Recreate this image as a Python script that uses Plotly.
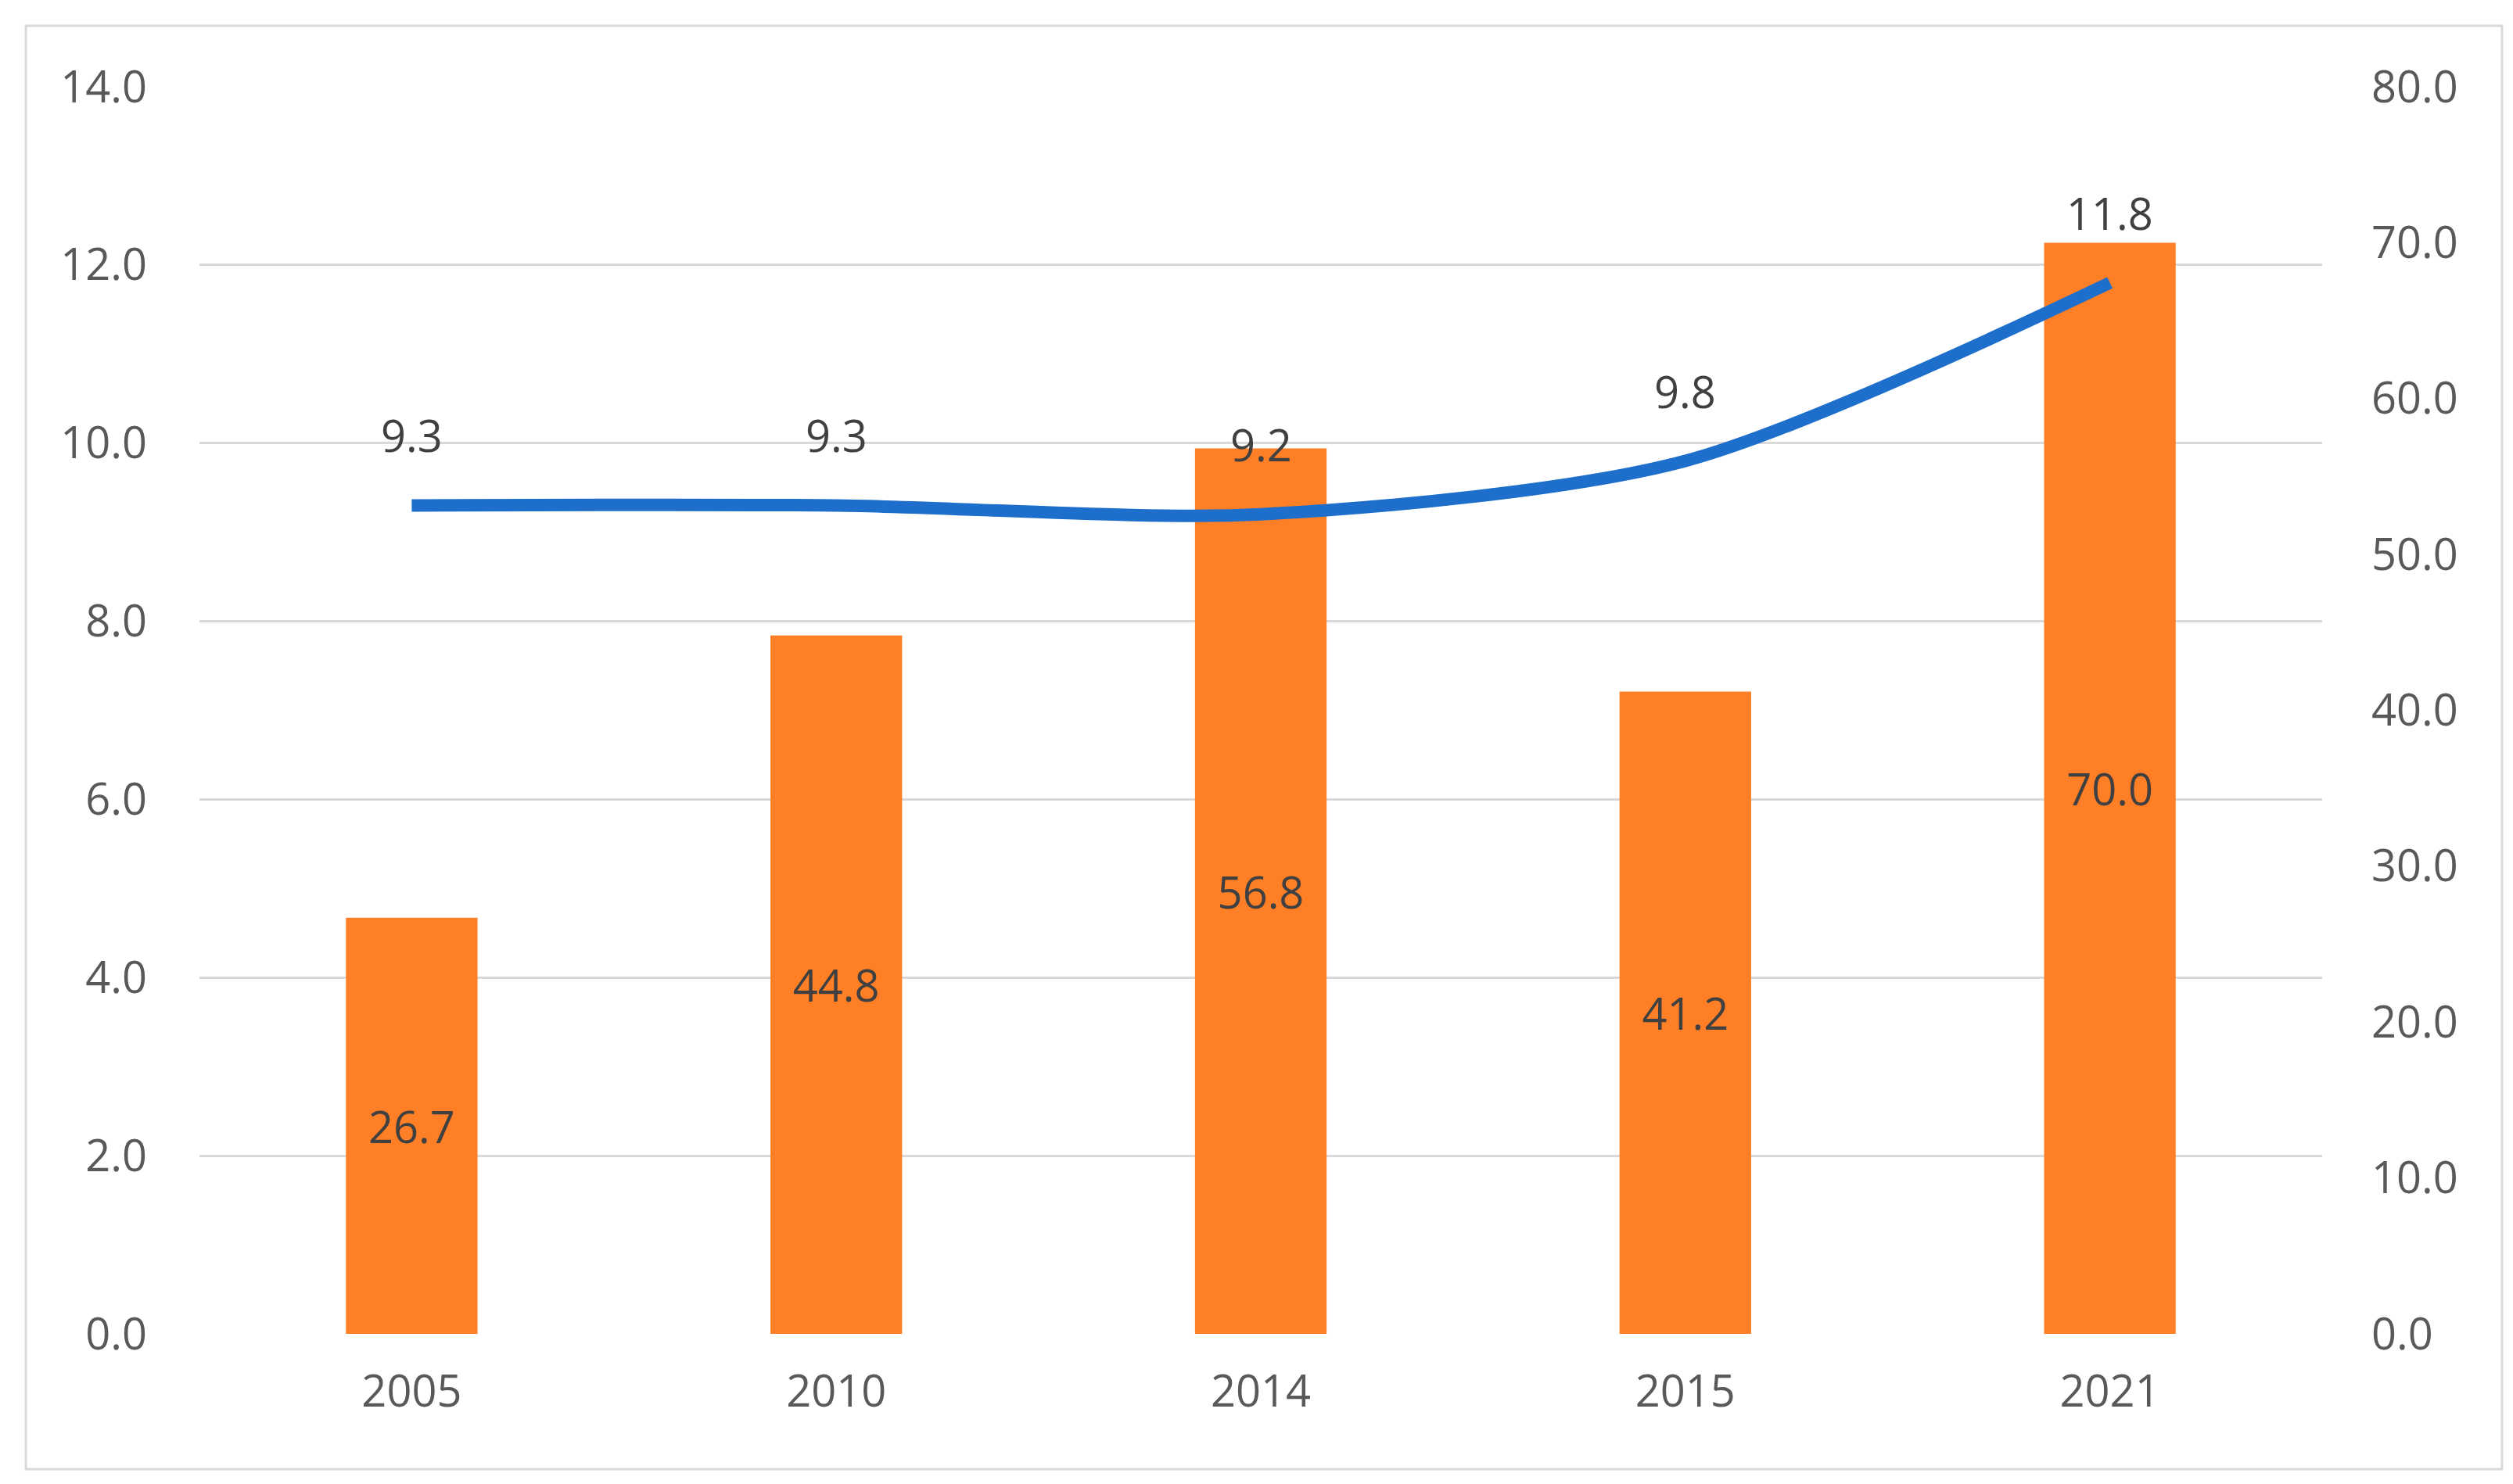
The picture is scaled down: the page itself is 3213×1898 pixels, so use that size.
import plotly.graph_objects as go

years = ["2005", "2010", "2014", "2015", "2021"]
bar_values = [26.7, 44.8, 56.8, 41.2, 70.0]
line_values = [9.3, 9.3, 9.2, 9.8, 11.8]
left_ticks = [0, 2, 4, 6, 8, 10, 12, 14]
right_ticks = [0, 10, 20, 30, 40, 50, 60, 70, 80]

W, H = 3213, 1898
L, R, T, B = 247, 252, 103, 200
FONT = "Open Sans"
FS = 56
TICK_COLOR = "#595959"
LABEL_COLOR = "#404040"
GRID = "#D9D9D9"

fig = go.Figure()

# Bars on the primary axis (displayed on the right), line on the overlaying
# axis (displayed on the left) so the line is drawn above the bars.
fig.add_trace(go.Bar(
    x=years, y=bar_values, yaxis="y",
    marker=dict(color="#FF7F27", line=dict(width=0)),
    text=[f"{v:.1f}" for v in bar_values],
    textposition="inside", insidetextanchor="middle",
    textfont=dict(family=FONT, size=FS, color=LABEL_COLOR),
    textangle=0,
    showlegend=False,
))

fig.add_trace(go.Scatter(
    x=years, y=line_values, yaxis="y2",
    mode="lines",
    line=dict(color="#1E6FCB", width=16, shape="spline", smoothing=0.8),
    showlegend=False,
))

# category axis annotations use the category index
for i, v in enumerate(line_values):
    fig.add_annotation(
        x=i, y=v, xref="x", yref="y2", text=f"{v:.1f}",
        showarrow=False, yshift=90,
        font=dict(family=FONT, size=FS, color=LABEL_COLOR),
    )

# outer chart border
pw, ph = W - L - R, H - T - B
fig.add_shape(
    type="rect", xref="paper", yref="paper",
    x0=(25 - L) / pw, x1=(W - 22 - L) / pw,
    y0=-(H - 27 - (H - B)) / ph, y1=(H - B - 25) / ph,
    line=dict(color="#D9D9D9", width=3), fillcolor="rgba(0,0,0,0)", layer="below",
)

fig.update_layout(
    width=W, height=H,
    margin=dict(l=L, r=R, t=T, b=B),
    paper_bgcolor="white", plot_bgcolor="white",
    bargap=0.69,
    font=dict(family=FONT, color=TICK_COLOR),
    xaxis=dict(
        type="category", categoryorder="array", categoryarray=years,
        range=[-0.5, len(years) - 0.5],
        showgrid=False, zeroline=False, showline=False,
        tickfont=dict(family=FONT, size=FS, color=TICK_COLOR),
        ticks="", ticklabelstandoff=36,
    ),
    yaxis=dict(
        range=[0, 80], tickvals=right_ticks,
        ticktext=[f"{v:.1f}" for v in right_ticks],
        side="right",
        showgrid=False, zeroline=False, showline=False, ticks="",
        tickfont=dict(family=FONT, size=FS, color=TICK_COLOR),
        ticklabelstandoff=62,
    ),
    yaxis2=dict(
        range=[0, 14], tickvals=left_ticks,
        ticktext=[f"{v:.1f}" for v in left_ticks],
        overlaying="y", side="left",
        showgrid=True, gridcolor=GRID, gridwidth=3,
        zeroline=False, showline=False, ticks="",
        tickfont=dict(family=FONT, size=FS, color=TICK_COLOR),
        ticklabelstandoff=66,
    ),
)

fig.write_html("out.html")
